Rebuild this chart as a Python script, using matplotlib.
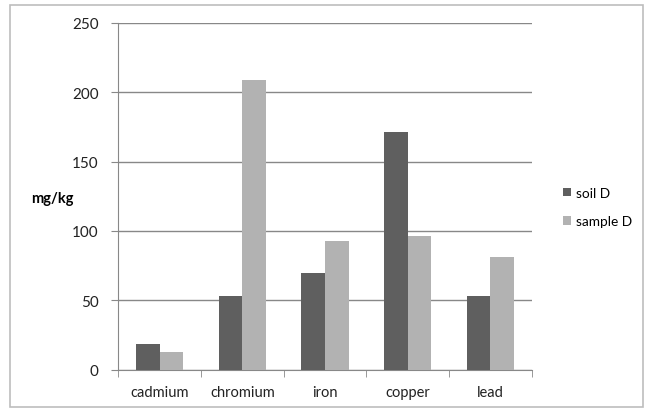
import numpy as np
import matplotlib.pyplot as plt
from matplotlib.patches import Rectangle

# data
metals = ["cadmium", "chromium", "iron", "copper", "lead"]
soilD = [18.5, 52.8, 69.6, 171, 53.3]
sampleD = [12.7, 208.7, 92.7, 96.5, 81.4]
yTicks = [0, 50, 100, 150, 200, 250]

plt.rcParams['font.family'] = ['Lato', 'DejaVu Sans']

fig = plt.figure(figsize=(6.47, 4.10), dpi=100)
ax = fig.add_axes([118.3 / 647, 1 - 370.7 / 410, (531.7 - 118.3) / 647, (370.7 - 23.7) / 410])

# outer chart border
fig.patches.append(Rectangle((10 / 647, 2 / 410), 633 / 647, 402 / 410, transform=fig.transFigure,
                             fill=False, edgecolor='#bdbdbd', linewidth=1.2))

x = np.arange(len(metals))
w = 1 / 3.5
ax.bar(x - w / 2, soilD, w, color='#5f5f5f', label='soil D', zorder=3)
ax.bar(x + w / 2, sampleD, w, color='#b2b2b2', label='sample D', zorder=3)

ax.set_xlim(-0.5, len(metals) - 0.5)
ax.set_ylim(0, 250)
ax.set_yticks(yTicks)
ax.set_xticks(np.arange(len(metals) + 1) - 0.5, minor=True)
ax.set_xticks(x)
ax.set_xticklabels(metals)
ax.tick_params(axis='x', which='major', length=0, pad=11, labelsize=10.5, labelcolor='#222222')
ax.tick_params(axis='x', which='minor', length=5, color='#888888')
ax.tick_params(axis='y', length=5, color='#888888', pad=9, labelsize=11, labelcolor='#222222')
ax.grid(axis='y', color='#888888', linewidth=1, zorder=0)

for s in ['top', 'right']:
    ax.spines[s].set_visible(False)
for s in ['left', 'bottom']:
    ax.spines[s].set_color('#888888')

fig.text(52 / 647, 1 - 199 / 410, "mg/kg", fontsize=10.5, fontweight='bold', ha='center', va='center')

ax.legend(loc='center left', bbox_to_anchor=(551 / 647, 1 - 208 / 410), bbox_transform=fig.transFigure,
          frameon=False, fontsize=9.8, handlelength=0.6, handleheight=0.6, handletextpad=0.3,
          labelspacing=1.2)

plt.savefig('out.png', dpi=100)
